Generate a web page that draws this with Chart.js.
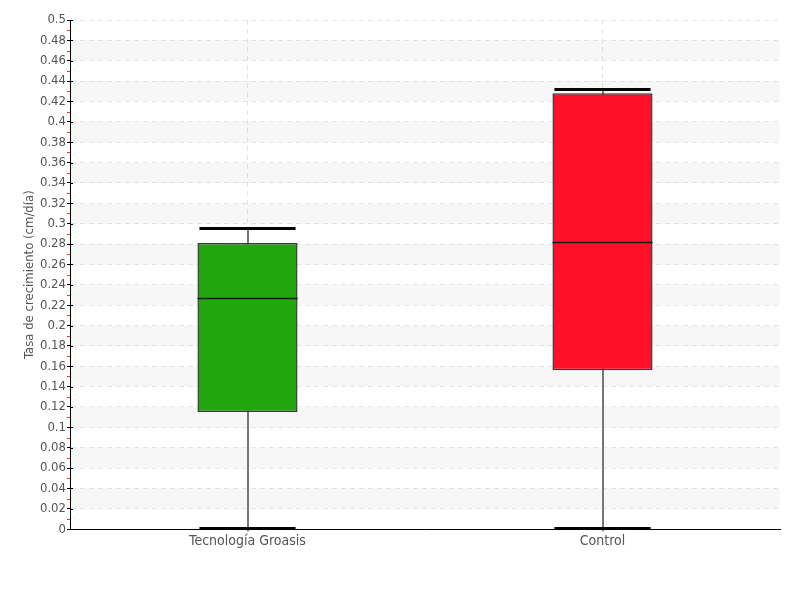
<!DOCTYPE html>
<html>
<head>
<meta charset="utf-8">
<script src="https://cdn.jsdelivr.net/npm/chart.js@4"></script>
<style>
  html, body { margin: 0; padding: 0; background: #fff; }
  #wrap { width: 800px; height: 600px; }
</style>
</head>
<body>
<div id="wrap"><canvas id="grafico-caja"></canvas></div>
<script>
// Datos del diagrama de caja
const categorias = ['Tecnología Groasis', 'Control'];
const minimos = [0, 0];
const cuartil1 = [0.115, 0.156];
const medianas = [0.227, 0.282];
const cuartil3 = [0.281, 0.428];
const maximos = [0.295, 0.431];
const colores = ['#22a50f', '#ff0f28'];

const fuente = "'DejaVu Sans Condensed', 'DejaVu Sans', sans-serif";

// Bandas alternas, marcas del eje y bigotes
const pluginFondo = {
    id: 'fondo',
    beforeDatasetsDraw(chart) {
        const { ctx, chartArea, scales } = chart;
        const y = scales.y;
        ctx.save();
        ctx.fillStyle = 'rgba(0,0,0,0.03)';
        for (let k = 0; k < 12; k++) {
            const v = 0.02 + 0.04 * k;
            const y1 = y.getPixelForValue(v + 0.02);
            const y2 = y.getPixelForValue(v);
            ctx.fillRect(chartArea.left + 1, y1, chartArea.right - chartArea.left - 1, y2 - y1);
        }
        // marcas menores en rojo
        ctx.strokeStyle = '#ff3030';
        ctx.lineWidth = 1;
        for (let k = 0; k < 25; k++) {
            const py = Math.round(y.getPixelForValue(0.01 + 0.02 * k)) + 0.5;
            ctx.beginPath();
            ctx.moveTo(chartArea.left - 3, py);
            ctx.lineTo(chartArea.left, py);
            ctx.stroke();
        }
        // marcas mayores hacia dentro
        ctx.strokeStyle = '#000';
        for (let k = 1; k <= 25; k++) {
            const py = Math.round(y.getPixelForValue(0.02 * k)) + 0.5;
            ctx.beginPath();
            ctx.moveTo(chartArea.left, py);
            ctx.lineTo(chartArea.left + 3, py);
            ctx.stroke();
        }
        // bigotes (debajo de la caja)
        const x = scales.x;
        ctx.strokeStyle = '#777';
        ctx.lineWidth = 2;
        categorias.forEach((c, i) => {
            const px = Math.round(x.getPixelForValue(i));
            ctx.beginPath();
            ctx.moveTo(px, y.getPixelForValue(minimos[i]) + 2);
            ctx.lineTo(px, y.getPixelForValue(maximos[i]));
            ctx.stroke();
        });
        ctx.restore();
    },
    afterDatasetsDraw(chart) {
        const { ctx, scales } = chart;
        const x = scales.x, y = scales.y;
        const meta = chart.getDatasetMeta(0);
        ctx.save();
        categorias.forEach((c, i) => {
            const barra = meta.data[i];
            const mitad = barra.width / 2;
            const px = x.getPixelForValue(i);
            // mediana
            ctx.strokeStyle = '#1a1a1a';
            ctx.lineWidth = 1.3;
            const ym = Math.round(y.getPixelForValue(medianas[i])) + 0.5;
            ctx.beginPath();
            ctx.moveTo(px - mitad, ym);
            ctx.lineTo(px + mitad, ym);
            ctx.stroke();
            // topes de los bigotes
            ctx.strokeStyle = '#000';
            ctx.lineWidth = 3;
            [minimos[i], maximos[i]].forEach(v => {
                const yy = Math.round(y.getPixelForValue(v)) - 0.5;
                ctx.beginPath();
                ctx.moveTo(px - mitad + 2, yy);
                ctx.lineTo(px + mitad - 2, yy);
                ctx.stroke();
            });
        });
        ctx.restore();
    }
};

new Chart(document.getElementById('grafico-caja').getContext('2d'), {
    type: 'bar',
    data: {
        labels: categorias,
        datasets: [{
            label: 'Tasa de crecimiento',
            data: cuartil1.map((q, i) => [q, cuartil3[i]]),
            backgroundColor: colores,
            borderColor: '#3a3a3a',
            borderWidth: 1.5,
            borderSkipped: false,
            categoryPercentage: 1,
            barPercentage: 0.282
        }]
    },
    plugins: [pluginFondo],
    options: {
        responsive: true,
        maintainAspectRatio: false,
        animation: false,
        layout: { padding: { top: 20, right: 20, bottom: 46, left: 22 } },
        plugins: {
            legend: { display: false },
            tooltip: { enabled: false }
        },
        scales: {
            x: {
                grid: {
                    offset: false,
                    color: '#e6e6e6',
                    drawTicks: false
                },
                border: { color: '#000', width: 1, dash: [5, 4] },
                ticks: {
                    color: '#555',
                    padding: 4,
                    font: { family: fuente, size: 14 }
                }
            },
            y: {
                min: 0,
                max: 0.5,
                afterFit: scale => { scale.width = 48; },
                grid: {
                    color: '#e8e8e8',
                    tickColor: '#000',
                    tickLength: 3
                },
                border: { color: '#000', width: 1, dash: [5, 4] },
                ticks: {
                    stepSize: 0.02,
                    autoSkip: false,
                    color: '#555',
                    padding: 1,
                    font: { family: fuente, size: 13 },
                    callback: v => String(+v.toFixed(2))
                },
                title: {
                    display: true,
                    text: 'Tasa de crecimiento (cm/día)',
                    color: '#555',
                    padding: 0,
                    font: { family: fuente, size: 13 }
                }
            }
        }
    }
});
</script>
</body>
</html>
